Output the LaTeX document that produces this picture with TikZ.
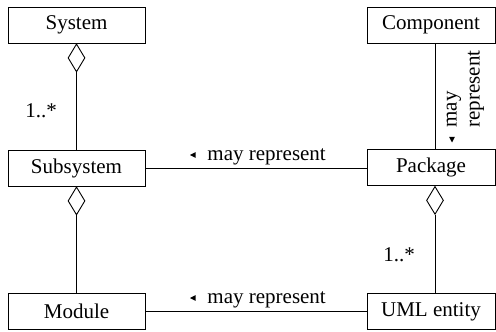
\documentclass[tikz,border=0pt]{standalone}
\usepackage{fontspec}
\setmainfont{Liberation Serif}
\usetikzlibrary{shapes.geometric}
\begin{document}
\begin{tikzpicture}[x=0.5pt,y=-0.5pt,
  line width=0.45pt,
  every node/.style={font=\fontsize{10.5}{12}\selectfont},
  classbox/.style={draw, rectangle, inner sep=0pt, minimum height=18pt},
  leftbox/.style={classbox, minimum width=68.5pt},
  rightbox/.style={classbox, minimum width=64pt},
  aggr/.style={draw, diamond, inner sep=0pt, minimum width=8.5pt, minimum height=14pt, anchor=north},
  lbl/.style={inner sep=0pt, anchor=base west},
  tip/.style={fill=black, draw=none}
]
\useasboundingbox (0,0) rectangle (496,331);

% classes
\node[leftbox]  (sys)  at (76.5,25)    {System};
\node[leftbox]  (sub)  at (76.5,168)   {Subsystem};
\node[leftbox]  (mod)  at (76.5,311.5) {Module};
\node[rightbox] (comp) at (431,25)     {Component};
\node[rightbox] (pkg)  at (431,167.5)  {Package};
\node[rightbox] (uml)  at (431,311.5)  {UML entity};

% aggregation diamonds
\node[aggr] (dsys) at (sys.south) {};
\node[aggr] (dsub) at (sub.south) {};
\node[aggr] (dpkg) at ([xshift=2pt]pkg.south) {};

% connectors
\draw (dsys.south) -- (sub.north);
\draw (dsub.south) -- (mod.north);
\draw (dpkg.south) -- (dpkg.south |- uml.north);
\draw ([xshift=2pt]comp.south) -- ([xshift=2pt]pkg.north);
\draw (sub.east) -- (sub.east -| pkg.west);
\draw (mod.east) -- (mod.east -| uml.west);

% multiplicities
\node[lbl] (m1) at (25,117.5) {1..*};
\node[lbl] (m2) at (383,261.5) {1..*};

% "may represent" labels with direction marks
\node[lbl] (r1) at (207,160) {may represent};
\fill[tip] (190,155) -- (195.5,152.2) -- (195.5,157.8) -- cycle;
\node[lbl] (r2) at (207,303) {may represent};
\fill[tip] (190,298) -- (195.5,295.2) -- (195.5,300.8) -- cycle;
\node[lbl, rotate=90] (r3a) at (456.5,128) {may};
\node[lbl, rotate=90] (r3b) at (479.5,128) {represent};
\fill[tip] (452,142.5) -- (449.2,137) -- (454.8,137) -- cycle;
\end{tikzpicture}
\end{document}
